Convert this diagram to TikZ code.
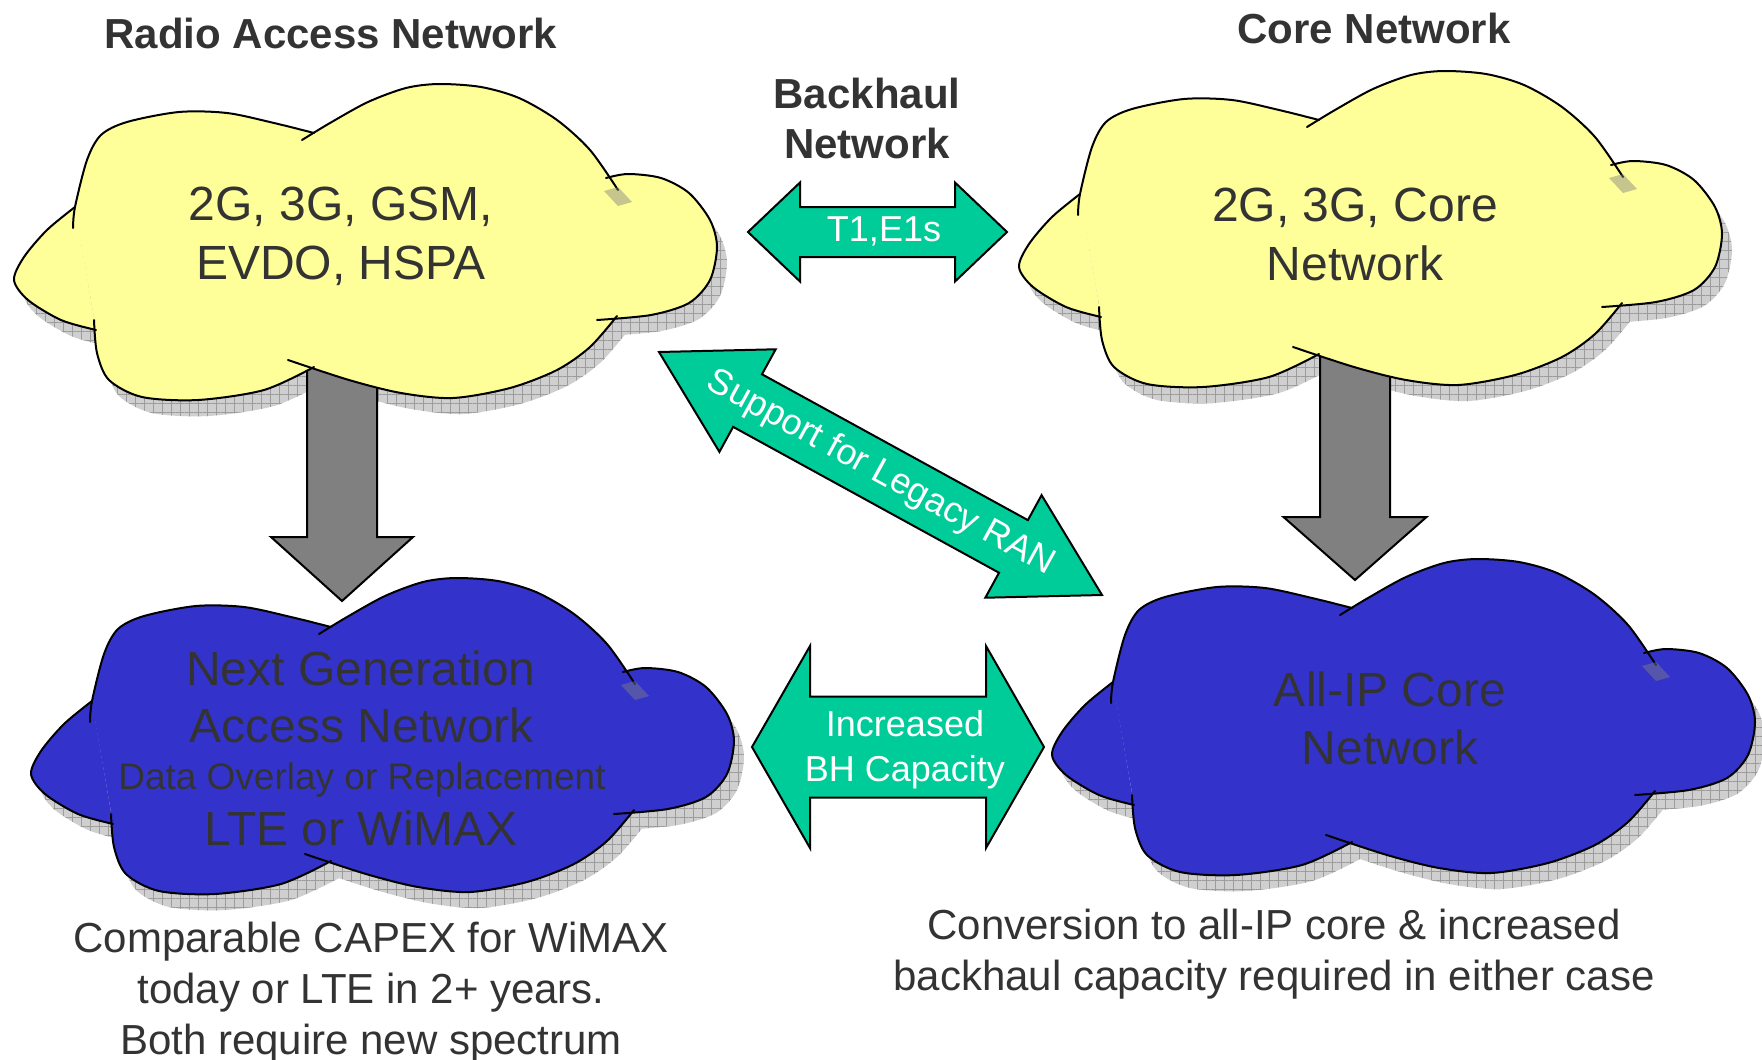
\documentclass[tikz,border=0pt]{standalone}
\usepackage{fontspec}
\setmainfont{Liberation Sans}
\usetikzlibrary{calc,patterns.meta}

\definecolor{cloudyellow}{HTML}{FFFF99}
\definecolor{cloudblue}{HTML}{3333CC}
\definecolor{linkgreen}{HTML}{00CC99}
\definecolor{stepgray}{HTML}{808080}
\definecolor{inkgray}{HTML}{333333}
\definecolor{shadowbase}{HTML}{CFCFCF}
\definecolor{shadowgrid}{HTML}{9C9C9C}

% Filled area of one cloud: six bumps closed by their chords, plus the core polygon
\newcommand\cloudfills[1]{%
  \fill[#1] plot[smooth] coordinates {(59,145) (61,124) (73,77) (87,52) (113,39) (165,29) (213,30) (260,40) (300,50)} -- cycle;
  \fill[#1] plot[smooth] coordinates {(288,57) (316,40) (354,19) (392,5) (425,1) (467,4) (505,15) (543,37) (576,67) (604,107)} -- cycle;
  \fill[#1] plot[smooth] coordinates {(592,95) (614,91) (647,95) (675,110) (696,137) (703,164) (696,197) (675,220) (637,232) (583,237)} -- cycle;
  \fill[#1] plot[smooth] coordinates {(603,233) (576,264) (543,287) (496,305) (439,315) (387,310) (335,297) (274,277)} -- cycle;
  \fill[#1] plot[smooth] coordinates {(300,284) (250,307) (184,317) (128,314) (95,297) (83,270) (80,237)} -- cycle;
  \fill[#1] plot[smooth] coordinates {(82,247) (47,237) (14,217) (0,197) (10,174) (33,147) (61,124)} -- cycle;
  \fill[#1] (61,126) -- (294,51) -- (596,95) -- (600,235) -- (296,284) -- (82,246) -- cycle;
}
% Outline of one cloud: each bump stroked on its own, some ends running inside
\newcommand\cloudstrokes[1]{%
  \draw[#1] plot[smooth] coordinates {(59,145) (61,124) (73,77) (87,52) (113,39) (165,29) (213,30) (260,40) (300,50)};
  \draw[#1] plot[smooth] coordinates {(288,57) (316,40) (354,19) (392,5) (425,1) (467,4) (505,15) (543,37) (576,67) (604,107)};
  \draw[#1] plot[smooth] coordinates {(592,95) (614,91) (647,95) (675,110) (696,137) (703,164) (696,197) (675,220) (637,232) (583,237)};
  \draw[#1] plot[smooth] coordinates {(603,233) (576,264) (543,287) (496,305) (439,315) (387,310) (335,297) (274,277)};
  \draw[#1] plot[smooth] coordinates {(300,284) (250,307) (184,317) (128,314) (95,297) (83,270) (80,237)};
  \draw[#1] plot[smooth] coordinates {(82,247) (47,237) (14,217) (0,197) (10,174) (33,147) (61,124)};
  \fill[gray,opacity=.45] (590,108) -- (604,104) -- (618,119) -- (604,123) -- cycle;
}
\newcommand\cloudshadow{%
  \begin{scope}[shift={(10,16)}]
    \cloudfills{shadowbase,postaction={pattern={Hatch[distance=9pt,angle=0,line width=0.7pt]},pattern color=shadowgrid}}
  \end{scope}}
\newcommand\cloudbody[1]{%
  \cloudfills{#1}
  \cloudstrokes{cloudline}}

% Block arrow with heads at both ends: style, from, to, head length, half head width, half shaft width
\newcommand\twowayarrow[6]{%
  \path ($(#2)!#4!(#3)$) coordinate (ha) ($(#3)!#4!(#2)$) coordinate (hb);
  \draw[#1] (#2) -- ($(ha)!#5!90:(#3)$) -- ($(ha)!#6!90:(#3)$) -- ($(hb)!#6!90:(#3)$)
    -- ($(hb)!#5!90:(#3)$) -- (#3) -- ($(hb)!#5!-90:(#3)$) -- ($(hb)!#6!-90:(#3)$)
    -- ($(ha)!#6!-90:(#3)$) -- ($(ha)!#5!-90:(#3)$) -- cycle;}
% Block arrow with one head: style, tail, tip, head length, half head width, half shaft width
\newcommand\onewayarrow[6]{%
  \path ($(#3)!#4!(#2)$) coordinate (hp);
  \draw[#1] ($(#2)!#6!90:(#3)$) -- ($(hp)!#6!90:(#3)$) -- ($(hp)!#5!90:(#3)$) -- (#3)
    -- ($(hp)!#5!-90:(#3)$) -- ($(hp)!#6!-90:(#3)$) -- ($(#2)!#6!-90:(#3)$) -- cycle;}

\tikzset{
  cloudline/.style={draw=black,line width=2pt,line cap=round},
  greenarrow/.style={fill=linkgreen,draw=black,line width=2pt,line join=miter},
  grayarrow/.style={fill=stepgray,draw=black,line width=2pt,line join=miter},
  heading/.style={font={\fontsize{42}{50}\selectfont\bfseries},text=inkgray,align=center,anchor=north,inner sep=0pt},
  cloudtext/.style={font={\fontsize{48}{59}\selectfont},text=inkgray,align=center,anchor=north,inner sep=0pt},
  bigline/.style={font={\fontsize{48}{57}\selectfont},text=inkgray,anchor=base,inner sep=0pt},
  smallline/.style={font={\fontsize{37}{44}\selectfont},text=inkgray,anchor=base,inner sep=0pt},
  arrowtext/.style={font={\fontsize{36}{45}\selectfont},text=white,align=center,inner sep=0pt},
  note/.style={font={\fontsize{42}{51}\selectfont},text=inkgray,align=center,anchor=north,inner sep=0pt},
}

\begin{document}
\begin{tikzpicture}[x=1pt,y=-1pt]
\useasboundingbox (0,0) rectangle (1762,1060);
\fill[white] (0,0) rectangle (1762,1060);

% drop shadows of the four clouds
\begin{scope}[shift={(14,83)}]\cloudshadow\end{scope}
\begin{scope}[shift={(1019,70)}]\cloudshadow\end{scope}
\begin{scope}[shift={(31,577)}]\cloudshadow\end{scope}
\begin{scope}[shift={(1052,558)}]\cloudshadow\end{scope}

% migration arrows, tucked under the upper clouds
\coordinate (ranout) at (342,340);
\coordinate (nganin) at (342,601);
\coordinate (coreout) at (1355,330);
\coordinate (allipin) at (1355,580);
\onewayarrow{grayarrow}{ranout}{nganin}{64pt}{71pt}{35pt}
\onewayarrow{grayarrow}{coreout}{allipin}{63pt}{71.5pt}{35pt}

% clouds
\begin{scope}[shift={(14,83)}]\cloudbody{cloudyellow}\end{scope}
\begin{scope}[shift={(1019,70)}]\cloudbody{cloudyellow}\end{scope}
\begin{scope}[shift={(31,577)}]\cloudbody{cloudblue}\end{scope}
\begin{scope}[shift={(1052,558)}]\cloudbody{cloudblue}\end{scope}

% cloud labels
\node[cloudtext] (ran) at (341,187) {2G, 3G, GSM,\\EVDO, HSPA};
\node[cloudtext] (core) at (1355,188) {2G, 3G, Core\\Network};
\node[bigline] (ngan1) at (361,685) {Next Generation};
\node[bigline] (ngan2) at (362,742) {Access Network};
\node[smallline] (ngan3) at (362,789) {Data Overlay or Replacement};
\node[bigline] (ngan4) at (361,845) {LTE or WiMAX};
\node[cloudtext,font={\fontsize{48}{58}\selectfont}] (allip) at (1390,672) {All-IP Core\\Network};

% backhaul links
\coordinate (t1w) at (748,232);
\coordinate (t1e) at (1007,232);
\twowayarrow{greenarrow}{t1w}{t1e}{52pt}{49.5pt}{25pt}
\node[arrowtext,anchor=north] (t1lbl) at (884,217) {T1,E1s};

\coordinate (legw) at (659,352);
\coordinate (lege) at (1102,595);
\twowayarrow{greenarrow}{legw}{lege}{101pt}{58.5pt}{30pt}
\node[arrowtext,rotate=-28.74] (leglbl) at ($(legw)!0.5!(lege)$) {Support for Legacy RAN};

\coordinate (bhw) at (752,747);
\coordinate (bhe) at (1044,747);
\twowayarrow{greenarrow}{bhw}{bhe}{58pt}{101pt}{50.5pt}
\node[arrowtext,anchor=north] (bhlbl) at (905,710) {Increased\\BH Capacity};

% headings
\node[heading] (ranhead) at (331,18) {Radio Access Network};
\node[heading] (corehead) at (1374,13) {Core Network};
\node[heading] (bhhead) at (867,78) {Backhaul\\Network};

% notes under the lower clouds
\node[note] (capex) at (371,922) {Comparable CAPEX for WiMAX\\today or LTE in 2+ years.\\Both require new spectrum};
\node[note] (conv) at (1274,909) {Conversion to all-IP core \& increased\\backhaul capacity required in either case};
\end{tikzpicture}
\end{document}
